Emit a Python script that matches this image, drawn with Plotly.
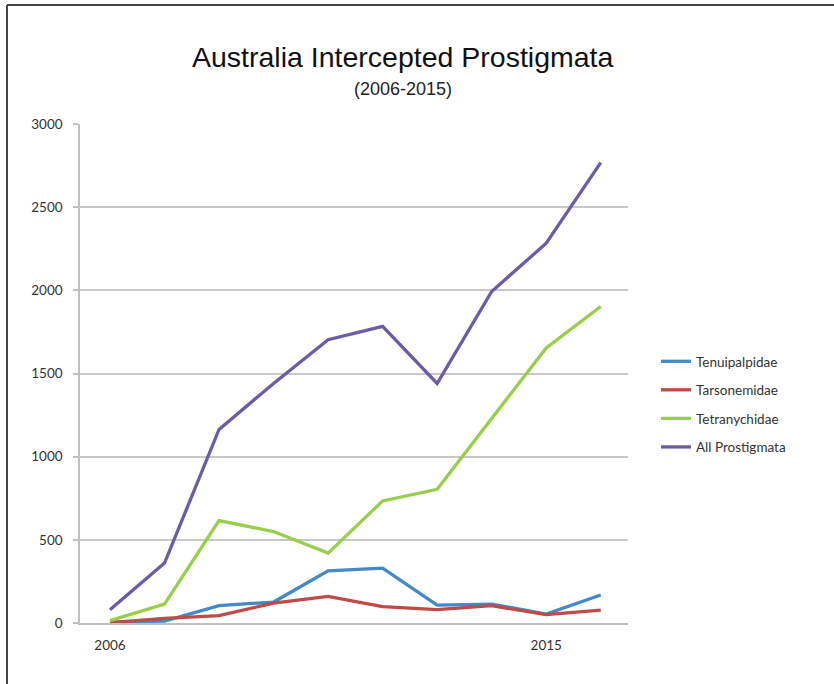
import plotly.graph_objects as go

years = [2006, 2007, 2008, 2009, 2010, 2011, 2012, 2013, 2014, 2015]
tick_positions = [0, 8]
tick_labels = ["2006", "2015"]

tenuipalpidae = [5, 12, 104, 126, 314, 330, 108, 114, 54, 168]
tarsonemidae = [2, 28, 44, 120, 160, 98, 80, 104, 50, 78]
tetranychidae = [14, 114, 616, 550, 420, 734, 804, 1232, 1654, 1903]
all_prostigmata = [80, 360, 1164, 1440, 1703, 1783, 1440, 1993, 2283, 2768]

series = [
    ("Tenuipalpidae", tenuipalpidae, "#4389C8"),
    ("Tarsonemidae", tarsonemidae, "#BE4B48"),
    ("Tetranychidae", tetranychidae, "#9ACD4C"),
    ("All Prostigmata", all_prostigmata, "#6E5BA5"),
]

x_idx = list(range(len(years)))

fig = go.Figure()
for i, (name, vals, color) in enumerate(series):
    fig.add_trace(go.Scatter(
        x=x_idx, y=vals, mode="lines", name=name,
        line=dict(color=color, width=3.3),
        legendgroup=f"g{i}",
    ))

# body margin removed via post_script, so no page offset
W, H = 834, 684
PX0, PX1, PY0, PY1 = 80, 628, 124, 623
L, T = PX0, PY0
R = W - PX1
B = H - PY1
pw, ph = PX1 - PX0, PY1 - PY0

def px_x(px):
    return (px - PX0) / pw

def px_y(py):
    return (PY1 - py) / ph

fig.update_layout(
    width=W, height=H,
    margin=dict(l=L, r=R, t=T, b=B),
    paper_bgcolor="white", plot_bgcolor="white",
    font=dict(family="Lato, Liberation Sans, Arial", color="#333333", size=13),
    showlegend=True,
    legend=dict(
        x=px_x(656), y=px_y(346), xanchor="left", yanchor="top",
        font=dict(size=13.5, color="#333333", family="Lato, Liberation Sans, Arial"),
        traceorder="grouped", tracegroupgap=8,
        itemwidth=30, bgcolor="rgba(0,0,0,0)",
    ),
    xaxis=dict(
        range=[-0.55, 9.5], tickmode="array", tickvals=tick_positions, ticktext=tick_labels,
        showgrid=False, showline=True, linecolor="#BFBFBF", linewidth=1.5,
        ticks="", zeroline=False, tickfont=dict(size=13.5, color="#333333"),
        ticklabelstandoff=9,
    ),
    yaxis=dict(
        range=[0, 3000], dtick=500, showgrid=True, gridcolor="#C8C8C8", gridwidth=1.5,
        showline=True, linecolor="#BFBFBF", linewidth=1.5,
        ticks="outside", ticklen=5, tickcolor="#BFBFBF", tickwidth=1.5,
        zeroline=False, tickfont=dict(size=13.5, color="#333333"), ticklabelstandoff=8,
    ),
    annotations=[
        dict(text="Australia Intercepted Prostigmata", x=px_x(403), y=px_y(57),
             xref="paper", yref="paper", showarrow=False,
             xanchor="center", yanchor="middle",
             font=dict(size=28.5, color="#111111", family="Liberation Sans, Arial")),
        dict(text="(2006-2015)", x=px_x(403), y=px_y(89),
             xref="paper", yref="paper", showarrow=False,
             xanchor="center", yanchor="middle",
             font=dict(size=18, color="#222222", family="Liberation Sans, Arial")),
    ],
    shapes=[
        dict(type="line", xref="paper", yref="paper", x0=px_x(7), x1=px_x(842),
             y0=px_y(5), y1=px_y(5), line=dict(color="#444444", width=2)),
        dict(type="line", xref="paper", yref="paper", x0=px_x(7), x1=px_x(7),
             y0=px_y(5), y1=px_y(700), line=dict(color="#444444", width=2)),
    ],
)

fig.write_html("out.html",
               config={"displayModeBar": False},
               post_script="document.body.style.margin='0';document.body.style.overflow='hidden';")
